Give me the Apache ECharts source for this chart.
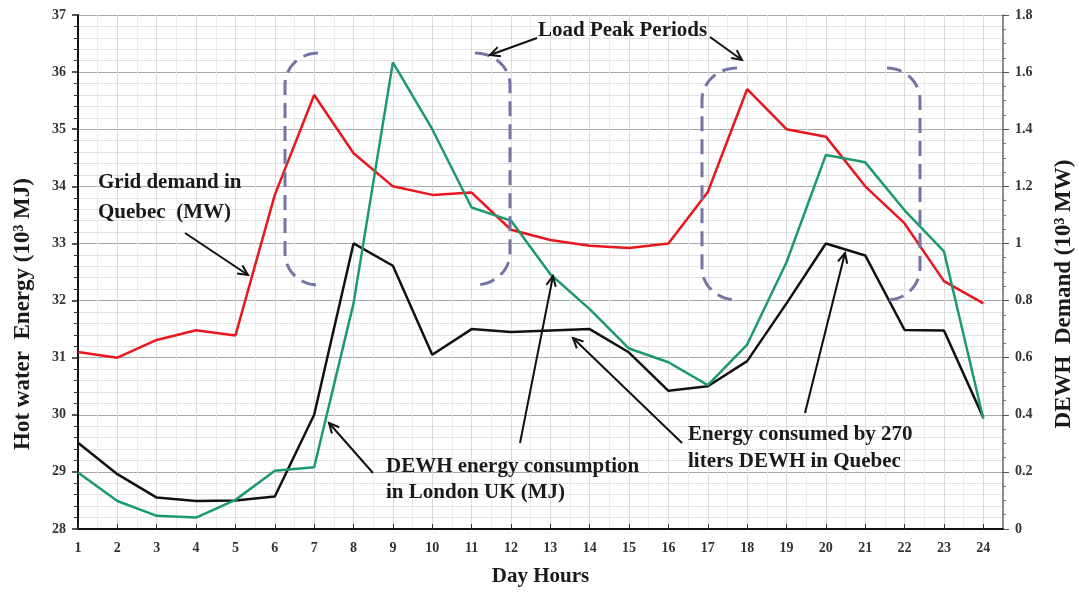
<!DOCTYPE html>
<html>
<head>
<meta charset="utf-8">
<script src="https://cdn.jsdelivr.net/npm/echarts@6/dist/echarts.min.js"></script>
<style>html,body{margin:0;padding:0;background:#fff}#c{width:1079px;height:592px}</style>
</head>
<body>
<div id="c"></div>
<script>
const hours = [1,2,3,4,5,6,7,8,9,10,11,12,13,14,15,16,17,18,19,20,21,22,23,24];
const gridDemandQuebec = [31.10,31.00,31.31,31.48,31.39,33.85,35.60,34.58,34.00,33.85,33.89,33.24,33.06,32.96,32.92,33.00,33.90,35.70,35.00,34.87,34.00,33.35,32.34,31.95];
const dewhLondon = [28.99,28.49,28.23,28.20,28.51,29.02,29.08,31.95,36.17,35.00,33.63,33.40,32.46,31.85,31.16,30.92,30.52,31.23,32.67,34.55,34.42,33.58,32.86,29.93];
const dewhQuebec = [0.302,0.192,0.110,0.098,0.100,0.114,0.400,1.000,0.922,0.610,0.700,0.690,0.695,0.700,0.618,0.484,0.500,0.588,0.790,1.000,0.958,0.697,0.695,0.390];
const leftTicks = [28,29,30,31,32,33,34,35,36,37];
const rightTicks = [0,0.2,0.4,0.6,0.8,1,1.2,1.4,1.6,1.8];

const FONT = '"Liberation Serif","Times New Roman",serif';
const pair = (arr) => hours.map((h, i) => [h, arr[i]]);

const chart = echarts.init(document.getElementById('c'));

function arrow(x1, y1, x2, y2) {
  const a = Math.atan2(y2 - y1, x2 - x1);
  const L = 11, sp = 0.45;
  const p1 = [x2 - L * Math.cos(a - sp), y2 - L * Math.sin(a - sp)];
  const p2 = [x2 - L * Math.cos(a + sp), y2 - L * Math.sin(a + sp)];
  return [
    { type: 'line', shape: { x1, y1, x2, y2 }, style: { stroke: '#111', lineWidth: 2 }, z: 100 },
    { type: 'polyline', shape: { points: [p1, [x2, y2], p2] }, style: { stroke: '#111', lineWidth: 2, fill: null }, z: 100 }
  ];
}
// bracket: xEnd = open end of arcs, xSide = vertical side, yTop/yBot, r = corner radius
function bracket(xEnd, xSide, yTop, yBot, r) {
  const pts = [];
  const cub = (p0, p1, p2, p3) => {
    for (let i = 0; i <= 16; i++) {
      const t = i / 16, u = 1 - t;
      pts.push([
        u*u*u*p0[0] + 3*u*u*t*p1[0] + 3*u*t*t*p2[0] + t*t*t*p3[0],
        u*u*u*p0[1] + 3*u*u*t*p1[1] + 3*u*t*t*p2[1] + t*t*t*p3[1]
      ]);
    }
  };
  const k = 0.5523;
  const dx = xSide - xEnd;
  cub([xEnd, yTop], [xEnd + dx * k, yTop], [xSide, yTop + r - r * k], [xSide, yTop + r]);
  pts.push([xSide, yBot - r]);
  cub([xSide, yBot - r], [xSide, yBot - r + r * k], [xEnd + dx * k, yBot], [xEnd, yBot]);
  return { type: 'polyline', shape: { points: pts }, style: { fill: null, stroke: '#7474a6', lineWidth: 3, lineDash: [15, 8] }, z: 90 };
}
function label(text, x, yTop, lh) {
  return { type: 'text', x: x, y: yTop, z: 100,
    style: { text, font: 'bold 21px ' + FONT, fill: '#1a1a1a', textAlign: 'left', textVerticalAlign: 'top', lineHeight: lh } };
}

const option = {
  animation: false,
  backgroundColor: '#fff',
  grid: { left: 78, right: 76, top: 15, bottom: 62, containLabel: false },
  xAxis: {
    type: 'value', min: 1, max: 24.5, interval: 1,
    name: 'Day Hours', nameLocation: 'middle', nameGap: 37,
    nameTextStyle: { fontFamily: FONT, fontWeight: 'bold', fontSize: 21, color: '#1a1a1a' },
    axisLine: { show: true, lineStyle: { color: '#111', width: 2 } },
    axisTick: { show: true, inside: true, length: 5, customValues: hours, lineStyle: { color: '#333' } },
    axisLabel: { customValues: hours, margin: 12, fontFamily: FONT, fontWeight: 'bold', fontSize: 14, color: '#333' },
    splitLine: { show: true, lineStyle: { color: '#dcdcdc', width: 1 } },
    minorTick: { show: false, splitNumber: 2 },
    minorSplitLine: { show: true, lineStyle: { color: '#ececec', width: 1 } }
  },
  yAxis: [
    {
      type: 'value', min: leftTicks[0], max: leftTicks[leftTicks.length - 1], interval: 1,
      axisLine: { show: true, lineStyle: { color: '#111', width: 2 } },
      axisTick: { show: true, length: 6, lineStyle: { color: '#222', width: 1.5 } },
      minorTick: { show: true, splitNumber: 5, length: 4, lineStyle: { color: '#333' } },
      axisLabel: { margin: 12, fontFamily: FONT, fontWeight: 'bold', fontSize: 14, color: '#333' },
      splitLine: { show: true, lineStyle: { color: '#a8a8a8', width: 1 } },
      minorSplitLine: { show: true, lineStyle: { color: '#e2e2e2', width: 1 } }
    },
    {
      type: 'value', position: 'right', min: rightTicks[0], max: rightTicks[rightTicks.length - 1], interval: 0.2,
      axisLine: { show: true, lineStyle: { color: '#666', width: 1.5 } },
      axisTick: { show: true, length: 6, lineStyle: { color: '#555' } },
      minorTick: { show: true, splitNumber: 4, length: 3, lineStyle: { color: '#777' } },
      axisLabel: { margin: 12, fontFamily: FONT, fontWeight: 'bold', fontSize: 14, color: '#333',
        formatter: v => String(Math.round(v * 10) / 10) },
      splitLine: { show: false }
    }
  ],
  series: [
    { name: 'Grid demand in Quebec (MW)', type: 'line', yAxisIndex: 0, data: pair(gridDemandQuebec),
      symbol: 'none', lineStyle: { color: '#e8161d', width: 2.5 }, z: 5 },
    { name: 'DEWH energy consumption in London UK (MJ)', type: 'line', yAxisIndex: 0, data: pair(dewhLondon),
      symbol: 'none', lineStyle: { color: '#1d9a6c', width: 2.5 }, z: 6 },
    { name: 'Energy consumed by 270 liters DEWH in Quebec', type: 'line', yAxisIndex: 1, data: pair(dewhQuebec),
      symbol: 'none', lineStyle: { color: '#111', width: 2.5 }, z: 4 }
  ],
  graphic: [
    bracket(318, 285, 53, 285, 32),
    bracket(475, 510, 53, 285, 32),
    bracket(737, 702, 68, 300, 32),
    bracket(887, 920, 68, 300, 32),
    ...arrow(185, 233, 248, 275),
    ...arrow(537, 38, 490, 55),
    ...arrow(710, 37, 742, 60),
    ...arrow(373, 473, 329, 423),
    ...arrow(520, 443, 553, 276),
    ...arrow(682, 443, 573, 338),
    ...arrow(805, 413, 845, 253),
    label('Grid demand in\nQuebec  (MW)', 98, 168, 30),
    label('Load Peak Periods', 538, 19, 24),
    label('DEWH energy consumption\nin London UK (MJ)', 386, 454, 26),
    label('Energy consumed by 270\nliters DEWH in Quebec', 688, 421, 27),
    { type: 'text', x: 23, y: 314, rotation: Math.PI / 2, z: 100,
      style: { text: 'Hot water  Energy (10³ MJ)', font: 'bold 23px ' + FONT, fill: '#1a1a1a', textAlign: 'center', textVerticalAlign: 'middle' } },
    { type: 'text', x: 1064, y: 294, rotation: Math.PI / 2, z: 100,
      style: { text: 'DEWH  Demand (10³ MW)', font: 'bold 23px ' + FONT, fill: '#1a1a1a', textAlign: 'center', textVerticalAlign: 'middle' } }
  ]
};
chart.setOption(option);
</script>
</body>
</html>
